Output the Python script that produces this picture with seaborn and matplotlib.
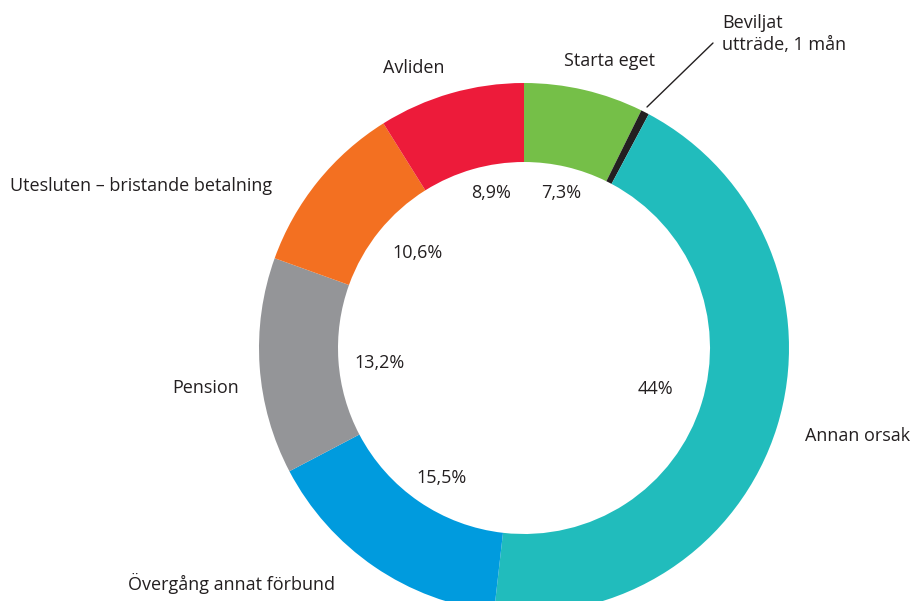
import matplotlib
matplotlib.use("Agg")
import matplotlib.pyplot as plt
import seaborn as sns

# Data (clockwise from the top)
categories = ["Starta eget", "Beviljat utträde, 1 mån", "Annan orsak",
              "Övergång annat förbund", "Pension",
              "Utesluten – bristande betalning", "Avliden"]
shares = [7.3, 0.5, 44.0, 15.5, 13.2, 10.6, 8.9]
pct_labels = ["7,3%", "", "44%", "15,5%", "13,2%", "10,6%", "8,9%"]
colors = ["#75bf48", "#231f20", "#21bcbc", "#009bde", "#949598", "#f37021", "#ed1b3a"]

sns.set_theme(style="white")
plt.rcParams['font.family'] = ['Open Sans', 'DejaVu Sans']
text_color = "#231f20"
fs = 13

fig = plt.figure(figsize=(9.10, 6.01), dpi=100)
ax = fig.add_axes([0, 0, 1, 1])

H = 601
cx, cy, R = 524, H - 348, 265
ax.pie(shares, colors=sns.color_palette(colors), startangle=90,
       counterclock=False, center=(cx, cy), radius=R,
       wedgeprops=dict(width=79, linewidth=0), frame=True)
ax.set_xlim(0, 910)
ax.set_ylim(0, 601)
ax.set_aspect("equal")
ax.axis("off")

# percentage labels inside the hole
pct_pos = [(561, 193), None, (655, 389), (442, 478), (380, 363), (418, 253), (491, 193)]
for lab, pos in zip(pct_labels, pct_pos):
    if pos:
        ax.text(pos[0], H - pos[1], lab, ha="center", va="center",
                fontsize=fs, color=text_color)

# category labels outside
ax.text(414, H - 68, "Avliden", ha="center", va="center", fontsize=fs, color=text_color)
ax.text(610, H - 61, "Starta eget", ha="center", va="center", fontsize=fs, color=text_color)
ax.text(722, H - 34, "Beviljat\nutträde, 1 mån", ha="left", va="center",
        fontsize=fs, color=text_color, linespacing=1.3)
ax.text(10, H - 186, "Utesluten – bristande betalning", ha="left", va="center",
        fontsize=fs, color=text_color)
ax.text(239, H - 388, "Pension", ha="right", va="center", fontsize=fs, color=text_color)
ax.text(805, H - 436, "Annan orsak", ha="left", va="center", fontsize=fs, color=text_color)
ax.text(231, H - 583, "Övergång annat förbund", ha="center", va="center",
        fontsize=fs, color=text_color)
ax.plot([647, 713], [H - 107, H - 43], color=text_color, linewidth=1)

fig.savefig("out.png", dpi=100)
